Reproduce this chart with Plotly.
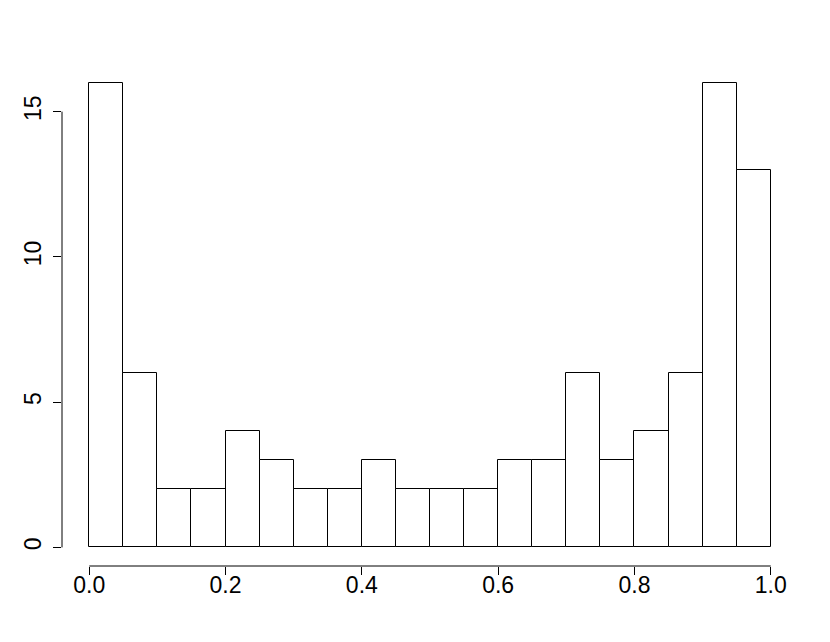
import plotly.graph_objects as go

# histogram bins (width 0.05) and counts
bin_left = [i * 0.05 for i in range(20)]
counts = [16, 6, 2, 2, 4, 3, 2, 2, 3, 2, 2, 2, 3, 3, 6, 3, 4, 6, 16, 13]
x_ticks = [0.0, 0.2, 0.4, 0.6, 0.8, 1.0]
x_tick_text = ["0.0", "0.2", "0.4", "0.6", "0.8", "1.0"]
y_ticks = [0, 5, 10, 15]

centers = [b + 0.025 for b in bin_left]

fig = go.Figure(go.Bar(
    x=centers, y=counts, width=0.05,
    marker=dict(color="white", line=dict(color="black", width=1)),
))

font = dict(family="Liberation Sans, Arial, sans-serif", size=23, color="black")

# page body has an 8px default margin, so margins are offset to compensate
fig.update_layout(
    width=830, height=642,
    margin=dict(l=54, r=40, t=56, b=84),
    paper_bgcolor="white", plot_bgcolor="white",
    showlegend=False, bargap=0,
    font=font,
    xaxis=dict(range=[-0.04, 1.04], tickvals=x_ticks, ticktext=x_tick_text,
               ticks="outside", ticklen=8, tickcolor="black", tickfont=font,
               automargin=False, ticklabelstandoff=-10,
               showgrid=False, zeroline=False, showline=False),
    yaxis=dict(range=[-0.64, 16.64], tickvals=y_ticks, tickangle=-90,
               ticks="outside", ticklen=8, tickcolor="black", tickfont=font,
               automargin=False, ticklabelstandoff=3,
               showgrid=False, zeroline=False, showline=False),
    shapes=[
        dict(type="line", xref="x", yref="paper", x0=0, x1=1, y0=0, y1=0,
             line=dict(color="black", width=1)),
        dict(type="line", xref="paper", yref="y", x0=0, x1=0, y0=0, y1=15,
             line=dict(color="black", width=1)),
    ],
)

fig.write_html("out.html")
